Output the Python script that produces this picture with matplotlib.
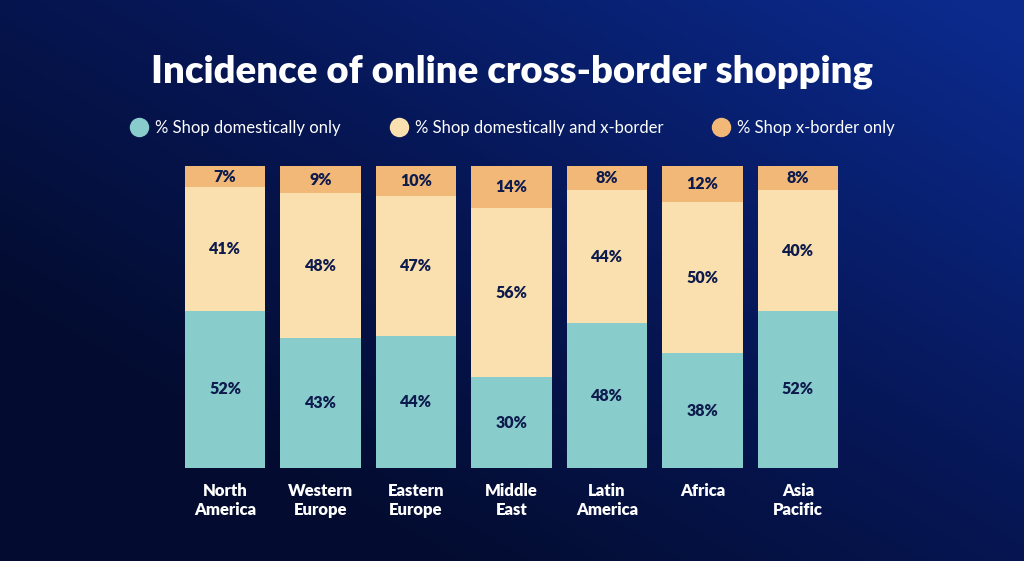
import numpy as np
import matplotlib
matplotlib.use("Agg")
import matplotlib.pyplot as plt
from matplotlib.colors import LinearSegmentedColormap
from matplotlib.lines import Line2D

regions = ["North\nAmerica", "Western\nEurope", "Eastern\nEurope", "Middle\nEast",
           "Latin\nAmerica", "Africa", "Asia\nPacific"]
domestic_only = [52, 43, 44, 30, 48, 38, 52]
domestic_and_xborder = [41, 48, 47, 56, 44, 50, 40]
xborder_only = [7, 9, 10, 14, 8, 12, 8]
series_names = ["% Shop domestically only", "% Shop domestically and x-border", "% Shop x-border only"]
colors = ["#88CCCC", "#FAE0AE", "#F2B878"]
text_dark = "#0E1B4D"

plt.rcParams['font.family'] = ['Lato', 'DejaVu Sans']

fig = plt.figure(figsize=(10.24, 5.61), dpi=100)

# background gradient
bg = fig.add_axes([0, 0, 1, 1], zorder=-10)
bg.axis("off")
yy, xx = np.mgrid[0:1:200j, 0:1:360j]
grad = np.clip(0.7 * xx + 0.65 * (1 - yy) - 0.3, 0, 1)
cmap = LinearSegmentedColormap.from_list("bg", ["#030C30", "#07185A", "#0B2A8C"])
bg.imshow(grad, cmap=cmap, aspect="auto", extent=[0, 1, 0, 1], origin="upper")
bg.set_xlim(0, 1)
bg.set_ylim(0, 1)

ax = fig.add_axes([185 / 1024, 1 - 468 / 561, 653 / 1024, 302 / 561])
ax.patch.set_alpha(0)

stack = np.array([domestic_only, domestic_and_xborder, xborder_only], dtype=float)
share = stack / stack.sum(axis=0) * 100
x = np.arange(len(regions))
bottom = np.zeros(len(regions))
for i in range(3):
    bars = ax.bar(x, share[i], 0.84, bottom=bottom, color=colors[i],
                  linewidth=0, label=series_names[i])
    for j, b in enumerate(bars):
        ax.text(b.get_x() + b.get_width() / 2, bottom[j] + share[i][j] / 2,
                f"{int(stack[i][j])}%", ha="center", va="center",
                color=text_dark, fontsize=11.5, fontweight="heavy")
    bottom += share[i]

ax.set_xlim(-0.42, len(regions) - 0.58)
ax.set_ylim(0, 100)
ax.set_xticks(x)
ax.set_xticklabels(regions, color="white", fontsize=12, fontweight="heavy",
                   linespacing=1.2, va="top")
ax.tick_params(axis="x", length=0, pad=11)
ax.set_yticks([])
for s in ax.spines.values():
    s.set_visible(False)

fig.text(0.5, 1 - 72 / 561, "Incidence of online cross-border shopping", ha="center",
         va="center", color="white", fontsize=27.5, fontweight="heavy")

handles = [Line2D([], [], marker="o", linestyle="none", markersize=14,
                  markerfacecolor=c, markeredgecolor="none") for c in colors]
leg = fig.legend(handles, series_names, loc="center", ncol=3,
                 bbox_to_anchor=(512 / 1024, 1 - 128 / 561), frameon=False,
                 fontsize=12, labelcolor="white", columnspacing=2.9,
                 handletextpad=0.35, handlelength=1.2)

fig.savefig("out.png", dpi=100)
